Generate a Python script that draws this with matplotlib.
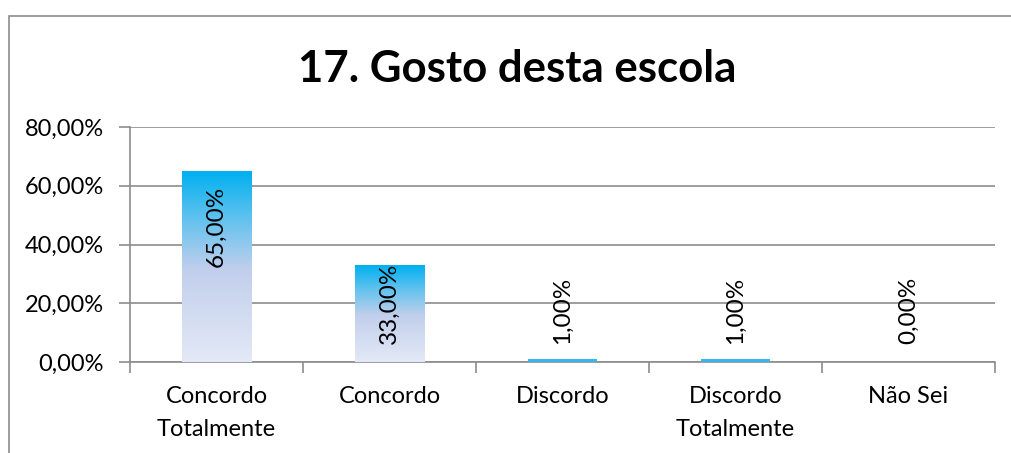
import matplotlib
matplotlib.use("Agg")
import matplotlib.pyplot as plt
import numpy as np
from matplotlib.colors import LinearSegmentedColormap
from matplotlib.patches import Rectangle

categories = ["Concordo\nTotalmente", "Concordo", "Discordo", "Discordo\nTotalmente", "Não Sei"]
values = [65.0, 33.0, 1.0, 1.0, 0.0]
labels = ["65,00%", "33,00%", "1,00%", "1,00%", "0,00%"]
yticks = [0, 20, 40, 60, 80]
ytick_labels = ["0,00%", "20,00%", "40,00%", "60,00%", "80,00%"]
title = "17. Gosto desta escola"

plt.rcParams['font.family'] = ['Lato', 'DejaVu Sans']

W, H = 1012, 453
fig = plt.figure(figsize=(W / 100, H / 100), dpi=100)
fig.patch.set_facecolor("white")

# outer chart frame (clipped on right and bottom)
fig.patches.append(Rectangle((8.5 / W, -0.1), 1.2, 1.1 - 15.5 / H,
                             transform=fig.transFigure, fill=False,
                             edgecolor="#8c8c8c", linewidth=1.2))

ax = fig.add_axes([130 / W, 1 - 362 / H, (995 - 130) / W, (362 - 127) / H])
x = np.arange(len(categories))
bars = ax.bar(x, values, width=0.40, color="none", zorder=3)

cmap = LinearSegmentedColormap.from_list(
    "grad", [(0.0, "#00B0F0"), (0.25, "#62C2EE"), (0.52, "#C2CFEC"), (1.0, "#E3E9F6")])
grad = np.linspace(0, 1, 256).reshape(-1, 1)
for b, v in zip(bars, values):
    if v <= 0:
        continue
    x0, w, h = b.get_x(), b.get_width(), b.get_height()
    if h < 2:
        b.set_facecolor("#3AB4EC")
        continue
    im = ax.imshow(grad, cmap=cmap, aspect="auto", extent=[x0, x0 + w, 0, h],
                   origin="upper", zorder=3, interpolation="bilinear")
    im.set_clip_path(b)

for xi, v, lab in zip(x, values, labels):
    ax.text(xi, max(v - 32.5, 6.0), lab, rotation=90, ha="center", va="bottom",
            fontsize=17.5, color="black", zorder=5)

ax.set_xlim(-0.5, len(categories) - 0.5)
ax.set_ylim(0, 80)
ax.set_yticks(yticks)
ax.set_yticklabels(ytick_labels, fontsize=17)
ax.set_xticks(x)
ax.set_xticklabels(categories, fontsize=17, linespacing=1.75)
ax.set_xticks(np.arange(-0.5, len(categories), 1.0), minor=True)
ax.tick_params(axis="x", which="major", length=0, pad=17)
ax.tick_params(axis="x", which="minor", length=8, width=1.2, color="#8c8c8c", direction="out")
ax.tick_params(axis="y", length=8, width=1.2, color="#8c8c8c", direction="out", pad=11)
ax.grid(axis="y", color="#8c8c8c", linewidth=1.2, zorder=0)
ax.set_axisbelow(True)
for s in ["top", "right"]:
    ax.spines[s].set_visible(False)
for s in ["left", "bottom"]:
    ax.spines[s].set_color("#8c8c8c")
    ax.spines[s].set_linewidth(1.2)

fig.text(517 / W, 1 - 82 / H, title, ha="center", va="baseline",
         fontsize=31.5, fontweight="bold", color="black")

fig.savefig("out.png", dpi=100)
